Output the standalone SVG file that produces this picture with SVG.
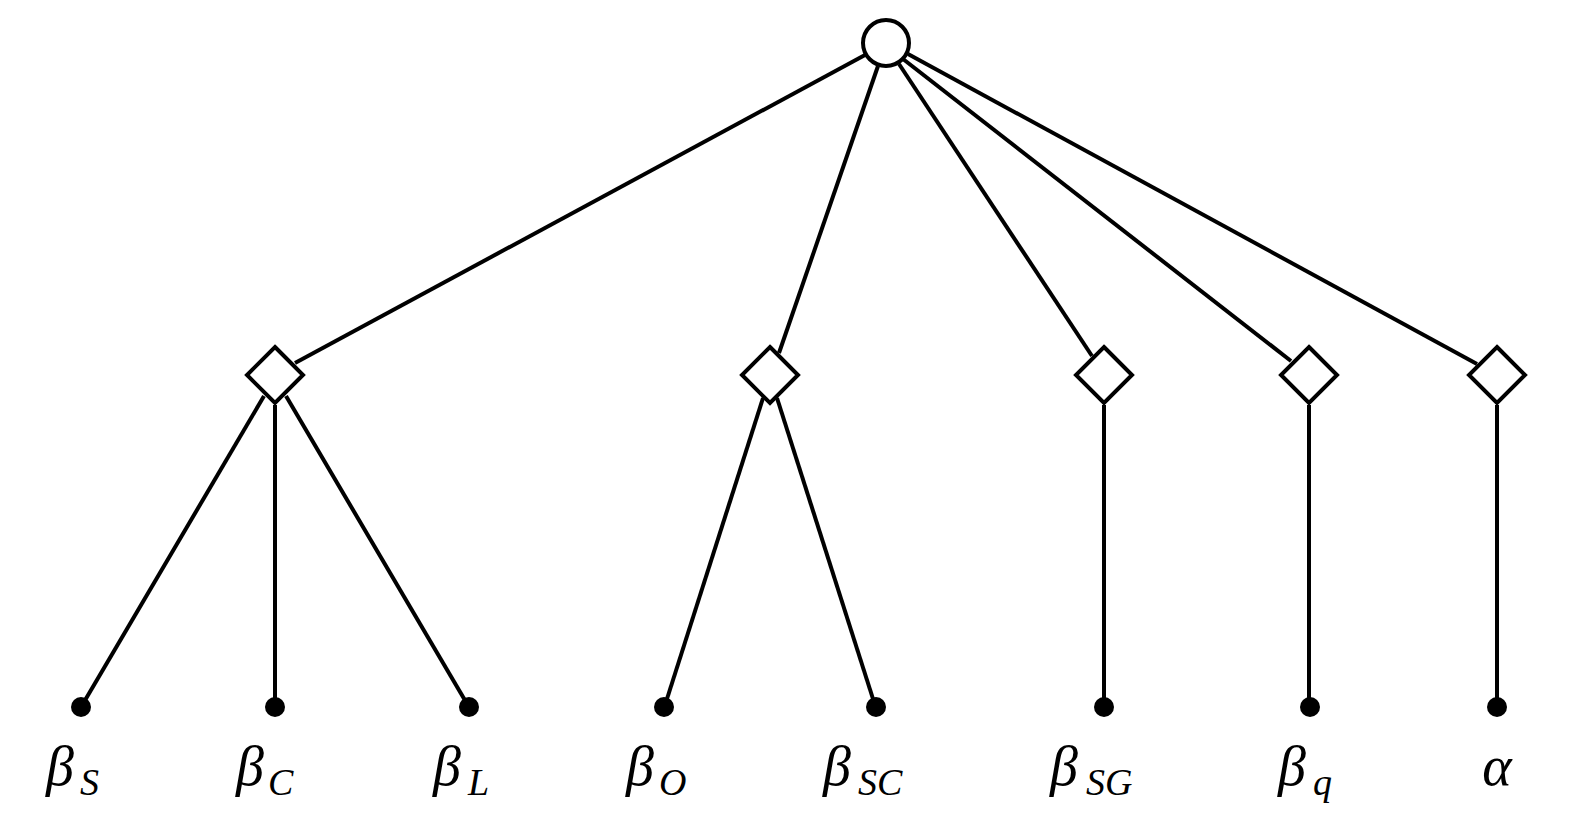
<svg xmlns="http://www.w3.org/2000/svg" width="1574" height="826" viewBox="0 0 1574 826">
<style>
.l{stroke:#000;stroke-width:4;fill:none}
.d{fill:#fff;stroke:#000;stroke-width:4}
.b{font-family:"Liberation Serif",serif;font-style:italic;font-size:56px}
.s{font-family:"Liberation Serif",serif;font-style:italic;font-size:38px}
</style>
<rect width="1574" height="826" fill="#fff"/>
<g id="connectors" class="l">
<line x1="865" y1="55" x2="295" y2="363"/>
<line x1="878" y1="66" x2="779" y2="353"/>
<line x1="899" y1="64" x2="1092" y2="356"/>
<line x1="903" y1="59" x2="1291" y2="361"/>
<line x1="908" y1="54" x2="1477" y2="364"/>
<line x1="264" y1="396" x2="84" y2="702"/>
<line x1="275" y1="405" x2="275" y2="702"/>
<line x1="286" y1="396" x2="466" y2="702"/>
<line x1="763" y1="398" x2="666" y2="702"/>
<line x1="777" y1="398" x2="874" y2="702"/>
<line x1="1104" y1="405" x2="1104" y2="702"/>
<line x1="1309" y1="405" x2="1309" y2="702"/>
<line x1="1497" y1="405" x2="1497" y2="702"/>
</g>
<g id="root"><circle cx="886" cy="43" r="23" class="d"/></g>
<g id="d1"><polygon class="d" points="275,347 303,375 275,403 247,375"/></g>
<g id="d2"><polygon class="d" points="770,347 798,375 770,403 742,375"/></g>
<g id="d3"><polygon class="d" points="1104,347 1132,375 1104,403 1076,375"/></g>
<g id="d4"><polygon class="d" points="1309,347 1337,375 1309,403 1281,375"/></g>
<g id="d5"><polygon class="d" points="1497,347 1525,375 1497,403 1469,375"/></g>
<g id="leaf1"><circle cx="81" cy="707" r="10"/><text class="b" x="46" y="785">β</text><text class="s" x="80" y="795">S</text></g>
<g id="leaf2"><circle cx="275" cy="707" r="10"/><text class="b" x="236" y="785">β</text><text class="s" x="268" y="795">C</text></g>
<g id="leaf3"><circle cx="469" cy="707" r="10"/><text class="b" x="433" y="785">β</text><text class="s" x="468" y="795">L</text></g>
<g id="leaf4"><circle cx="664" cy="707" r="10"/><text class="b" x="626" y="785">β</text><text class="s" x="659" y="795">O</text></g>
<g id="leaf5"><circle cx="876" cy="707" r="10"/><text class="b" x="823" y="785">β</text><text class="s" x="858" y="795">SC</text></g>
<g id="leaf6"><circle cx="1104" cy="707" r="10"/><text class="b" x="1050" y="785">β</text><text class="s" x="1086" y="795">SG</text></g>
<g id="leaf7"><circle cx="1310" cy="707" r="10"/><text class="b" x="1278" y="785">β</text><text class="s" x="1313" y="795">q</text></g>
<g id="leaf8"><circle cx="1497" cy="707" r="10"/><text class="b" x="1497" y="785" text-anchor="middle">α</text></g>
</svg>
